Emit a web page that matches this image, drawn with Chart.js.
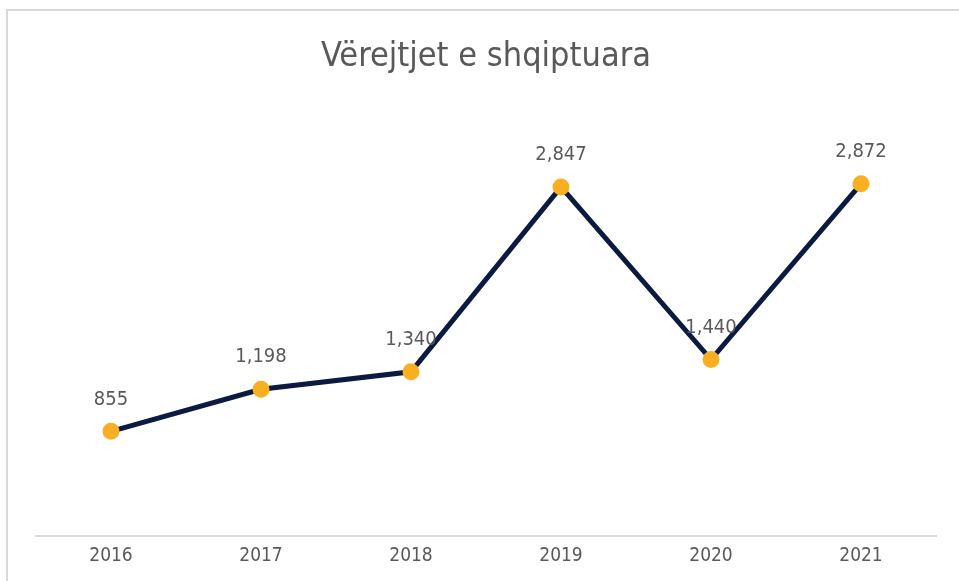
<!DOCTYPE html>
<html>
<head>
  <meta charset="utf-8">
  <title>Vërejtjet e shqiptuara</title>
  <script src="https://cdn.jsdelivr.net/npm/chart.js@4.4.0/dist/chart.umd.min.js"></script>
  <style>
    html, body { margin: 0; padding: 0; background: #fff; }
    #wrap { position: relative; width: 959px; height: 581px; }
    #frame { position: absolute; left: 6px; top: 9px; width: 960px; height: 580px;
             border-left: 2px solid #d9d9d9; border-top: 2px solid #d9d9d9; }
    canvas { position: absolute; left: 0; top: 0; }
  </style>
</head>
<body>
<div id="wrap">
  <div id="frame"></div>
  <canvas id="chart" width="959" height="581"></canvas>
</div>
<script>
  // data
  const years = ['2016', '2017', '2018', '2019', '2020', '2021'];
  const remarks = [855, 1198, 1340, 2847, 1440, 2872];

  const FONT = "'Liberation Sans Narrow', 'DejaVu Sans Condensed', 'Roboto', sans-serif";

  // small plugin to write the value above each point
  const valueLabels = {
    id: 'valueLabels',
    afterDatasetsDraw(chart) {
      const ctx = chart.ctx;
      const meta = chart.getDatasetMeta(0);
      ctx.save();
      ctx.font = '20px ' + FONT;
      ctx.fillStyle = '#595959';
      ctx.textAlign = 'center';
      ctx.textBaseline = 'middle';
      meta.data.forEach((pt, i) => {
        ctx.fillText(remarks[i].toLocaleString('en-US'), pt.x, pt.y - 32);
      });
      ctx.restore();
    }
  };

  const ctx = document.getElementById('chart').getContext('2d');
  new Chart(ctx, {
    type: 'line',
    data: {
      labels: years,
      datasets: [{
        data: remarks,
        borderColor: '#0b1a40',
        borderWidth: 5,
        pointBackgroundColor: '#f8b022',
        pointBorderColor: '#f8b022',
        pointRadius: 6,
        tension: 0,
        fill: false
      }]
    },
    options: {
      responsive: false,
      animation: false,
      layout: { padding: { left: 36, right: 23, top: 37, bottom: 14 } },
      plugins: {
        legend: { display: false },
        tooltip: { enabled: false },
        title: {
          display: true,
          text: 'Vërejtjet e shqiptuara',
          color: '#595959',
          font: { family: FONT, size: 34, weight: 'normal' },
          padding: { top: 0, bottom: 29 }
        }
      },
      scales: {
        x: {
          offset: true,
          grid: { display: false },
          border: { display: true, color: '#d9d9d9', width: 2 },
          ticks: { color: '#595959', font: { family: FONT, size: 19 }, padding: 0 }
        },
        y: {
          display: false,
          min: 0,
          max: 3500
        }
      }
    },
    plugins: [valueLabels]
  });
</script>
</body>
</html>
